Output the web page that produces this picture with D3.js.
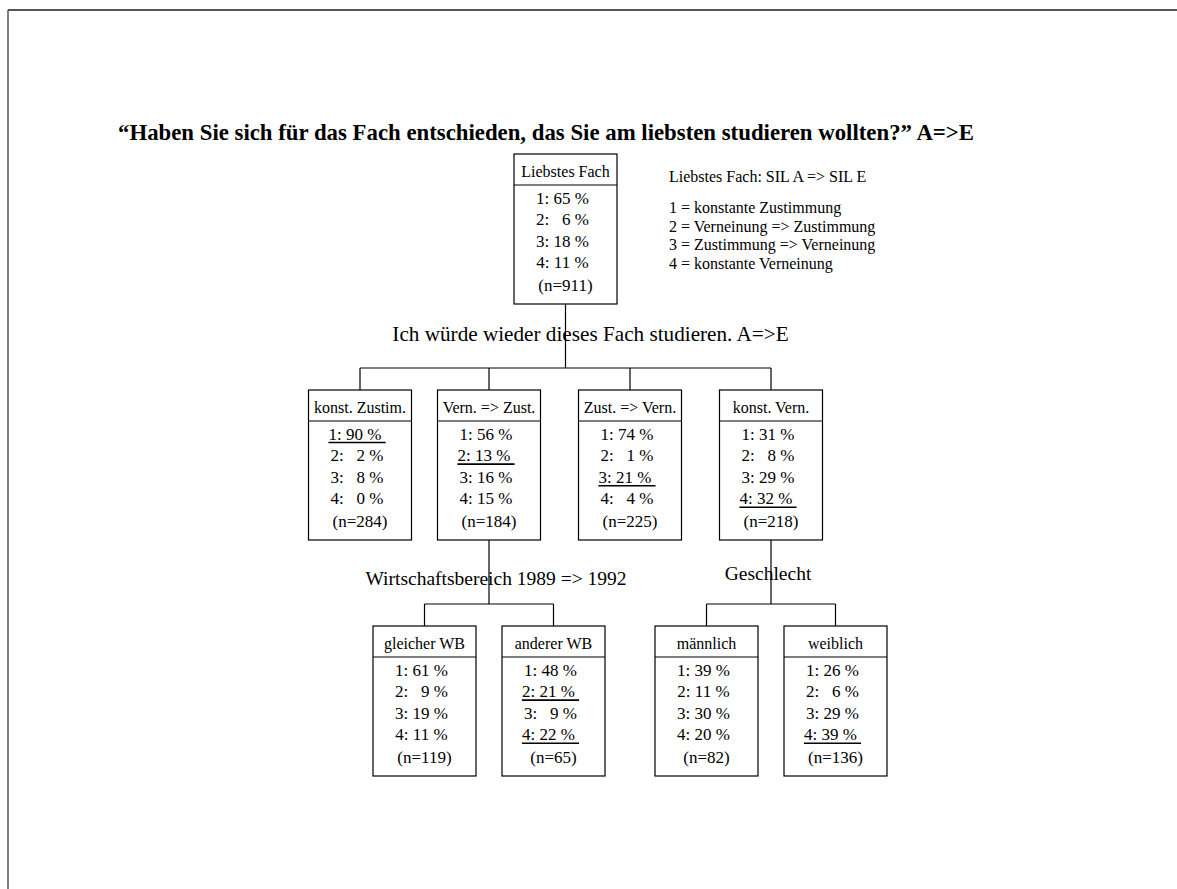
<!DOCTYPE html>
<html>
<head>
<meta charset="utf-8">
<script src="https://cdn.jsdelivr.net/npm/d3@7"></script>
<style>
  body { margin: 0; background: #fff; }
  text { font-family: "Liberation Serif", "Times New Roman", serif; fill: #000; white-space: pre; }
</style>
</head>
<body>
<div id="chart"></div>
<script>
// Tree data: one entry per box
var nodeNames = ["Liebstes Fach", "konst. Zustim.", "Vern. => Zust.", "Zust. => Vern.", "konst. Vern.",
                 "gleicher WB", "anderer WB", "männlich", "weiblich"];
var nodeParents = [null, "Liebstes Fach", "Liebstes Fach", "Liebstes Fach", "Liebstes Fach",
                   "Vern. => Zust.", "Vern. => Zust.", "konst. Vern.", "konst. Vern."];
var nodePercents = [[65, 6, 18, 11], [90, 2, 8, 0], [56, 13, 16, 15], [74, 1, 21, 4], [31, 8, 29, 32],
                    [61, 9, 19, 11], [48, 21, 9, 22], [39, 11, 30, 20], [26, 6, 29, 39]];
var nodeCounts = [911, 284, 184, 225, 218, 119, 65, 82, 136];
var nodeUnderlined = [[], [1], [2], [3], [4], [], [2, 4], [], [4]];

// split variable shown under each parent
var splitParents = ["Liebstes Fach", "Vern. => Zust.", "konst. Vern."];
var splitLabels = ["Ich würde wieder dieses Fach studieren. A=>E", "Wirtschaftsbereich 1989 => 1992", "Geschlecht"];

var titleText = "\u201CHaben Sie sich für das Fach entschieden, das Sie am liebsten studieren wollten?\u201D A=>E";
var legendTitle = "Liebstes Fach: SIL A => SIL E";
var legendItems = ["1 = konstante Zustimmung", "2 = Verneinung => Zustimmung",
                   "3 = Zustimmung => Verneinung", "4 = konstante Verneinung"];

// layout
var width = 1177, height = 889;
var boxW = 103, boxH = 150, headH = 31, rowStep = 21.6, rowDx = -3;
var rootX = 565.5, topY = 154, levelStep = 236, dropGap = 22;
// dx from parent centre, dy below parent box, font size
var splitLabelStyle = [[25, 37, 21.2], [7, 45, 19.5], [-3, 40, 19.5]];

var svg = d3.select("#chart").append("svg")
    .attr("width", width)
    .attr("height", height);

// page frame (top and left edge)
svg.append("line").attr("x1", 8).attr("y1", 10).attr("x2", width).attr("y2", 10)
    .attr("stroke", "#555").attr("stroke-width", 2);
svg.append("line").attr("x1", 8).attr("y1", 10).attr("x2", 8).attr("y2", height)
    .attr("stroke", "#555").attr("stroke-width", 1.5);

svg.append("text")
    .attr("x", 118).attr("y", 140)
    .style("font-size", "22.8px")
    .style("font-weight", "bold")
    .text(titleText);

// build hierarchy
var table = nodeNames.map(function(name, i) {
    return { name: name, parent: nodeParents[i], pct: nodePercents[i], n: nodeCounts[i], under: nodeUnderlined[i] };
});
var root = d3.stratify()
    .id(function(d) { return d.name; })
    .parentId(function(d) { return d.parent; })(table);

var tree = d3.tree()
    .nodeSize([1, levelStep])
    .separation(function(a, b) {
        if (a.depth === 2) return 129;
        var first = a.parent.children[0];
        return (a === first || b === first) ? 129 : 141;
    });
tree(root);

root.each(function(d) {
    d.cx = rootX + d.x;
    d.top = topY + d.y;
});

var line = { stroke: "#000", width: 1.2 };

// connectors
root.descendants().filter(function(d) { return d.children; }).forEach(function(p) {
    var barY = p.children[0].top - dropGap;
    var xs = p.children.map(function(c) { return c.cx; });
    var g = svg.append("g").attr("stroke", line.stroke).attr("stroke-width", line.width).attr("fill", "none");
    g.append("line").attr("x1", p.cx).attr("y1", p.top + boxH).attr("x2", p.cx).attr("y2", barY);
    g.append("line").attr("x1", d3.min(xs)).attr("y1", barY).attr("x2", d3.max(xs)).attr("y2", barY);
    p.children.forEach(function(c) {
        g.append("line").attr("x1", c.cx).attr("y1", barY).attr("x2", c.cx).attr("y2", c.top);
    });
});

// split labels (drawn over the connector, as in the original)
splitParents.forEach(function(name, i) {
    var p = root.find(function(d) { return d.id === name; });
    var s = splitLabelStyle[i];
    svg.append("text")
        .attr("x", p.cx + s[0])
        .attr("y", p.top + boxH + s[1])
        .attr("text-anchor", "middle")
        .style("font-size", s[2] + "px")
        .text(splitLabels[i]);
});

// boxes
var nodes = svg.selectAll("g.node")
    .data(root.descendants())
    .enter().append("g")
    .attr("class", "node")
    .attr("transform", function(d) { return "translate(" + (d.cx - boxW / 2) + "," + d.top + ")"; });

nodes.append("rect")
    .attr("width", boxW).attr("height", boxH)
    .attr("fill", "#fff").attr("stroke", "#000").attr("stroke-width", line.width);
nodes.append("line")
    .attr("x1", 0).attr("x2", boxW).attr("y1", headH).attr("y2", headH)
    .attr("stroke", "#000").attr("stroke-width", line.width);
nodes.append("text")
    .attr("x", boxW / 2).attr("y", 23)
    .attr("text-anchor", "middle")
    .style("font-size", "16px")
    .text(function(d) { return d.id; });

function rowLabel(v, i, under) {
    return (i + 1) + ": " + (v < 10 ? "  " : "") + v + " %" + (under ? " " : "");
}

nodes.each(function(d) {
    var g = d3.select(this);
    var cx = boxW / 2 + rowDx;
    d.data.pct.forEach(function(v, i) {
        var under = d.data.under.indexOf(i + 1) >= 0;
        var y = headH + 18.5 + i * rowStep;
        var t = g.append("text")
            .attr("x", cx).attr("y", y)
            .attr("text-anchor", "middle")
            .style("font-size", "17px")
            .text(rowLabel(v, i, under));
        if (under) {
            var len = t.node().getComputedTextLength();
            g.append("line")
                .attr("x1", cx - len / 2).attr("x2", cx + len / 2)
                .attr("y1", y + 3).attr("y2", y + 3)
                .attr("stroke", "#000").attr("stroke-width", 1.6);
        }
    });
    g.append("text")
        .attr("x", boxW / 2).attr("y", headH + 106)
        .attr("text-anchor", "middle")
        .style("font-size", "17px")
        .text("(n=" + d.data.n + ")");
});

// legend
var legend = svg.append("g").attr("transform", "translate(669,0)");
legend.append("text").attr("y", 182).style("font-size", "16px").text(legendTitle);
legend.selectAll("text.item")
    .data(legendItems)
    .enter().append("text")
    .attr("class", "item")
    .attr("y", function(d, i) { return 213 + i * 18.5; })
    .style("font-size", "16px")
    .text(function(d) { return d; });
</script>
</body>
</html>
